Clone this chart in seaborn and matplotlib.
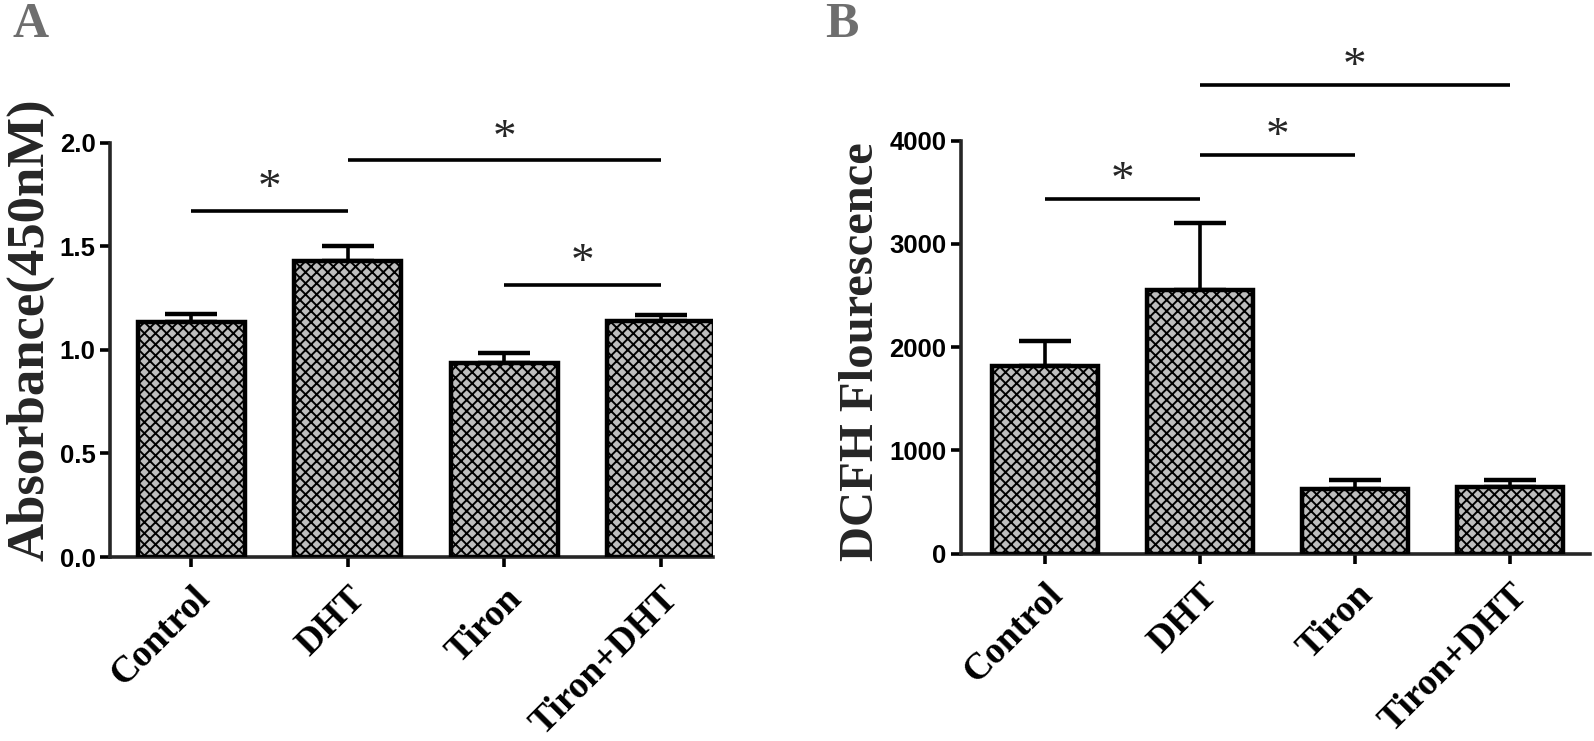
import numpy as np
import pandas as pd
import matplotlib
matplotlib.use("Agg")
import matplotlib.pyplot as plt
import seaborn as sns

# ---- data ----
groups = ["Control", "DHT", "Tiron", "Tiron+DHT"]
absorbance = [1.135, 1.427, 0.936, 1.14]
absorbance_err = [0.04, 0.073, 0.05, 0.029]
dcfh = [1813, 2556, 629, 645]
dcfh_err = [245, 644, 87, 71]
yticks_a = [0.0, 0.5, 1.0, 1.5, 2.0]
yticks_b = [0, 1000, 2000, 3000, 4000]
# significance brackets: (start group, end group, height)
sig_a = [(0, 1, 1.672), (1, 3, 1.915), (2, 3, 1.315)]
sig_b = [(0, 1, 3436), (1, 2, 3865), (1, 3, 4540)]

sns.set_theme(style="ticks")
plt.rcParams["font.family"] = ["Liberation Serif", "DejaVu Serif"]
plt.rcParams["hatch.linewidth"] = 1.4
plt.rcParams["hatch.color"] = "#262626"

fig = plt.figure(figsize=(15.94, 7.41), dpi=100)
axA = fig.add_axes([0.069, 0.2483, 0.378, 0.5591])
axB = fig.add_axes([0.603, 0.253, 0.3946, 0.557])

tick_font = {"family": ["Liberation Sans", "DejaVu Sans"],
             "weight": "bold", "size": 18.5}


def panel(ax, values, errs, yticks, ylim, sig, xlim, star_off):
    df = pd.DataFrame({"group": groups, "value": values})
    sns.barplot(data=df, x="group", y="value", ax=ax, color="#bdbdbd",
                width=0.685, edgecolor="black", linewidth=3.2,
                errorbar=None, zorder=3)
    for p in ax.patches:
        p.set_hatch("xxx")
    pos = np.arange(len(groups))
    ax.errorbar(pos, values, yerr=[np.zeros(len(errs)), errs], fmt="none",
                ecolor="black", elinewidth=2.6, capsize=19, capthick=3.2,
                zorder=2)
    ax.set_ylim(*ylim)
    ax.set_xlim(*xlim)
    ax.set_yticks(yticks)
    ax.set_xlabel("")
    ax.set_ylabel("")
    for s in ["top", "right"]:
        ax.spines[s].set_visible(False)
    for s in ["left", "bottom"]:
        ax.spines[s].set_linewidth(2.6)
    ax.tick_params(axis="both", direction="out", length=7, width=2.6,
                   colors="black")
    ax.tick_params(axis="x", pad=10)
    ax.set_xticks(pos)
    ax.set_xticklabels(groups, rotation=45, ha="right", rotation_mode="anchor",
                       fontsize=27, fontweight="bold",
                       family=["Liberation Serif", "DejaVu Serif"])
    for a, b, h in sig:
        ax.plot([a, b], [h, h], color="black", lw=2.6, clip_on=False,
                solid_capstyle="butt")
        ax.text((a + b) / 2, h + star_off, "*", ha="center", va="center",
                fontsize=34, family=["Liberation Serif", "DejaVu Serif"],
                clip_on=False)


panel(axA, absorbance, absorbance_err, yticks_a, (0, 2.0), sig_a,
      (-0.52, 3.33), 0.10)
axA.yaxis.set_major_formatter(matplotlib.ticker.FormatStrFormatter("%.1f"))
panel(axB, dcfh, dcfh_err, yticks_b, (0, 4000), sig_b,
      (-0.543, 3.52), 165)
for ax in (axA, axB):
    for lab in ax.get_yticklabels():
        lab.set_fontproperties(matplotlib.font_manager.FontProperties(**tick_font))

fig.text(0.019, 0.555, "Absorbance(450nM)", rotation=90, ha="center",
         va="center", fontsize=38, fontweight="bold")
fig.text(0.540, 0.526, "DCFH Flourescence", rotation=90, ha="center",
         va="center", fontsize=35, fontweight="bold")
fig.text(0.008, 0.950, "A", ha="left", va="baseline", fontsize=36,
         fontweight="bold", color="#6e6e6e")
fig.text(0.5176, 0.950, "B", ha="left", va="baseline", fontsize=36,
         fontweight="bold", color="#6e6e6e")

fig.savefig("out.png", dpi=100)
